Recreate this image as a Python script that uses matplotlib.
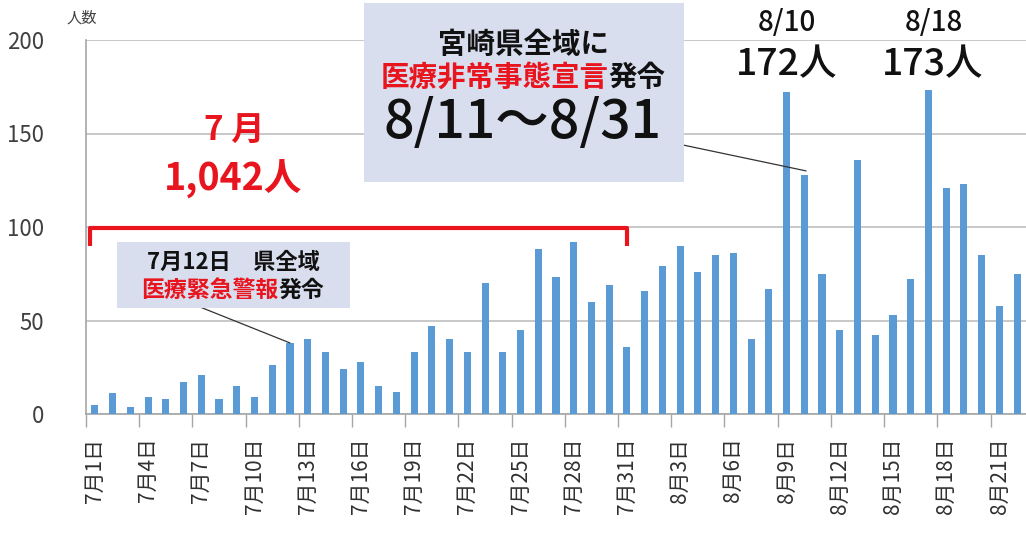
import matplotlib
matplotlib.use("Agg")
import matplotlib.pyplot as plt
from matplotlib.patches import Rectangle
from matplotlib.lines import Line2D

plt.rcParams['font.family'] = ['Noto Sans CJK JP', 'DejaVu Sans']

# ---- data ----
july_counts = [5, 11, 4, 9, 8, 17, 21, 8, 15, 9, 26, 38, 40, 33, 24, 28, 15, 12,
               33, 47, 40, 33, 70, 33, 45, 88, 73, 92, 60, 69, 36]
aug_counts = [66, 79, 90, 76, 85, 86, 40, 67, 172, 128, 75, 45, 136, 42, 53, 72,
              173, 121, 123, 85, 58, 75]
july_labels = [f"7月{d}日" for d in range(1, 32)]
aug_labels = [f"8月{d}日" for d in range(1, 23)]
counts = july_counts + aug_counts
labels = july_labels + aug_labels
yticks = [0, 50, 100, 150, 200]

W, H = 1026, 533
fig = plt.figure(figsize=(W / 100, H / 100), dpi=100)
ax = fig.add_axes([86 / W, 1 - 414 / H, (W - 86) / W, (414 - 40) / H])

RED = '#E8141E'
BLUE = '#5B9BD5'
BOX = '#D9DEEE'

x = list(range(len(counts)))
ax.bar(x, counts, width=0.4, color=BLUE, zorder=3)
ax.set_xlim(-0.5, len(counts) - 0.5)
ax.set_ylim(0, 200)
ax.set_yticks(yticks)
ax.set_yticklabels([str(v) for v in yticks], fontsize=16, color='#404040')
ax.grid(axis='y', color='#BFBFBF', linewidth=1.2, zorder=0)
ax.tick_params(axis='y', length=0, pad=30)

ax.set_xticks(x[::3])
ax.set_xticklabels(labels[::3], rotation=90, fontsize=15, color='#303030')
ax.set_xticks([i - 0.5 for i in range(0, len(counts), 3)], minor=True)
ax.tick_params(axis='x', which='major', length=0, pad=17)
ax.tick_params(axis='x', which='minor', length=9, color='#A6A6A6', width=1)
for s in ['top', 'right']:
    ax.spines[s].set_visible(False)
ax.spines['left'].set_color('#A6A6A6')
ax.spines['bottom'].set_color('#A6A6A6')
ax.spines['left'].set_linewidth(1.2)
ax.spines['bottom'].set_linewidth(1.2)


def fp(px, py):
    return px / W, 1 - py / H


fig.text(*fp(82, 18), "人数", fontsize=11, color='#404040', ha='center', va='center')

renderer = fig.canvas.get_renderer()


def seg_text(cx, cy, segs, **kw):
    texts = []
    for s, c in segs:
        t = fig.text(0, 0, s, color=c, ha='left', va='center', zorder=10, **kw)
        texts.append(t)
    widths = [t.get_window_extent(renderer).width for t in texts]
    total = sum(widths)
    cur = cx - total / 2
    for t, w in zip(texts, widths):
        t.set_position(fp(cur, cy))
        cur += w


# red bracket over July
bx0, bx1 = -0.28, len(july_counts) - 1
ax.add_line(Line2D([bx0, bx0, bx1, bx1], [90, 99.5, 99.5, 90], color=RED, lw=3,
                   solid_joinstyle='round', solid_capstyle='butt', zorder=5,
                   clip_on=False))
fig.text(*fp(234, 131), "7 月", fontsize=24, color=RED, fontweight='bold',
         ha='center', va='center', zorder=10)
fig.text(*fp(233, 179), f"{sum(july_counts):,}人", fontsize=27, color=RED,
         fontweight='bold', ha='center', va='center', zorder=10)

# box 1
fig.patches.append(Rectangle(fp(117, 308), (350 - 117) / W, (308 - 242) / H,
                             transform=fig.transFigure, facecolor=BOX,
                             edgecolor='none', zorder=4))
seg_text(233, 262, [("7月12日　県全域", '#111111')], fontsize=16, fontweight='bold')
seg_text(233, 290, [("医療緊急警報", RED), ("発令", '#111111')], fontsize=16.5,
         fontweight='bold')
ax.annotate("", xy=(11, counts[11]), xycoords='data',
            xytext=fp(200, 307), textcoords='figure fraction',
            arrowprops=dict(arrowstyle='-', color='#333333', lw=0.9,
                            shrinkA=0, shrinkB=0), zorder=6)

# box 2
fig.patches.append(Rectangle(fp(364, 182), (684 - 364) / W, (182 - 3) / H,
                             transform=fig.transFigure, facecolor=BOX,
                             edgecolor='none', zorder=4))
seg_text(523, 45, [("宮崎県全域に", '#111111')], fontsize=20.5, fontweight='bold')
seg_text(523, 78, [("医療非常事態宣言", RED), ("発令", '#111111')], fontsize=20.5,
         fontweight='bold')
seg_text(523, 123, [("8/11～8/31", '#111111')], fontsize=38.5, fontweight='medium')
ax.annotate("", xy=(40.1, counts[40] + 2), xycoords='data',
            xytext=fp(683, 145), textcoords='figure fraction',
            arrowprops=dict(arrowstyle='-', color='#333333', lw=0.9,
                            shrinkA=0, shrinkB=0), zorder=6)

# peak labels
fig.text(*fp(787, 22), "8/10", fontsize=20, fontweight='medium', color='#111111',
         ha='center', va='center', zorder=10)
fig.text(*fp(787, 64), f"{counts[39]}人", fontsize=27, fontweight='medium',
         color='#111111', ha='center', va='center', zorder=10)
fig.text(*fp(934, 22), "8/18", fontsize=20, fontweight='medium', color='#111111',
         ha='center', va='center', zorder=10)
fig.text(*fp(933, 64), f"{counts[47]}人", fontsize=27, fontweight='medium',
         color='#111111', ha='center', va='center', zorder=10)

fig.savefig("out.png", dpi=100)
